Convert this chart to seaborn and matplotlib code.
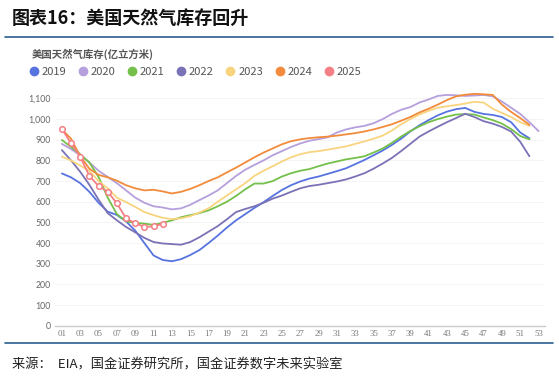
import pandas as pd
import seaborn as sns
import matplotlib.pyplot as plt
from matplotlib.lines import Line2D

# weekly storage, 亿立方米
weeks = list(range(1, 54))
y2019 = [737, 718, 690, 648, 595, 552, 536, 505, 460, 400, 340, 318, 312, 322, 342, 366, 400, 436,
         475, 510, 540, 570, 598, 628, 657, 680, 698, 712, 722, 735, 748, 762, 782, 802, 825, 848,
         875, 905, 940, 970, 995, 1018, 1036, 1048, 1054, 1035, 1025, 1020, 1010, 985, 935, 907]
y2020 = [880, 855, 825, 790, 750, 720, 690, 655, 620, 595, 578, 572, 563, 568, 585, 608, 630, 655,
         690, 725, 755, 778, 800, 825, 845, 865, 882, 895, 903, 912, 935, 950, 960, 967, 980, 1000,
         1025, 1045, 1058, 1080, 1095, 1112, 1117, 1115, 1112, 1114, 1117, 1110, 1085, 1055, 1025,
         985, 942]
y2021 = [899, 865, 830, 790, 720, 620, 540, 505, 498, 494, 488, 498, 510, 525, 535, 545, 558, 578,
         600, 628, 660, 688, 688, 700, 722, 738, 750, 758, 772, 785, 795, 805, 812, 820, 838, 858,
         885, 915, 942, 965, 985, 1000, 1012, 1022, 1024, 1022, 1008, 995, 978, 952, 918, 902]
y2022 = [850, 800, 745, 682, 610, 545, 510, 478, 452, 425, 405, 398, 395, 392, 405, 428, 455, 482,
         515, 550, 565, 578, 595, 615, 630, 648, 665, 676, 682, 690, 698, 708, 722, 738, 760, 785,
         812, 845, 880, 915, 940, 963, 985, 1005, 1026, 1010, 990, 978, 962, 940, 890, 820]
y2023 = [818, 800, 775, 750, 700, 665, 620, 598, 575, 550, 535, 522, 516, 520, 530, 548, 568, 600,
         630, 660, 690, 725, 750, 772, 795, 815, 830, 840, 845, 852, 860, 868, 880, 892, 905, 920,
         945, 975, 1000, 1022, 1040, 1055, 1062, 1068, 1075, 1084, 1080, 1050, 1030, 1010, 985, 967]
y2024 = [950, 905, 820, 760, 730, 718, 702, 680, 665, 655, 658, 650, 640, 648, 662, 680, 700, 718,
         742, 765, 790, 815, 838, 858, 878, 893, 902, 908, 912, 915, 920, 926, 932, 940, 950, 962,
         975, 992, 1010, 1032, 1050, 1070, 1092, 1110, 1118, 1122, 1120, 1117, 1070, 1035, 1005, 972]
y2025 = [952, 883, 818, 725, 676, 649, 592, 520, 496, 478, 481, 492]

years = ['2019', '2020', '2021', '2022', '2023', '2024', '2025']
colors = ['#5773e0', '#b59fdc', '#74c04a', '#7a72b6', '#f8d47f', '#f28b3b', '#f47f84']

series = dict(zip(years, [y2019, y2020, y2021, y2022, y2023, y2024, y2025]))
rows = []
for yr, vals in series.items():
    for w, v in zip(weeks, vals):
        rows.append({'week': w, 'year': yr, 'value': v})
df = pd.DataFrame(rows)

sns.set_style('white')
plt.rcParams['font.family'] = ['Noto Sans CJK SC', 'DejaVu Sans']

fig = plt.figure(figsize=(5.59, 3.85), dpi=100)
ax = fig.add_axes([55 / 559, 1 - 325.7 / 385, 490 / 559, (325.7 - 88.1) / 385])

palette = dict(zip(years, colors))
old = df[df['year'] != '2025']
sns.lineplot(data=old, x='week', y='value', hue='year', palette=palette, linewidth=1.3,
             legend=False, ax=ax)
sns.lineplot(data=df[df['year'] == '2025'], x='week', y='value', color=palette['2025'],
             linewidth=1.3, marker='o', markersize=4, markerfacecolor='white',
             markeredgecolor=palette['2025'], markeredgewidth=1.1, legend=False, ax=ax)

ax.set_xlim(0.25, 53.7)
ax.set_ylim(0, 1150)
ax.set_yticks(range(0, 1101, 100))
ax.set_yticklabels([f'{v:,}' for v in range(0, 1101, 100)], fontsize=6.3, color='#666666',
                   family='Lato')
ax.set_xticks(range(1, 54, 2))
ax.set_xticklabels([f'{w:02d}' for w in range(1, 54, 2)], fontsize=6.3, color='#777777',
                   family='Liberation Serif')
ax.tick_params(axis='both', length=0, pad=3)
ax.grid(axis='y', color='#f3f3f3', linewidth=0.6)
ax.set_xlabel('')
ax.set_ylabel('')
for s in ['top', 'right', 'left']:
    ax.spines[s].set_visible(False)
ax.spines['bottom'].set_color('#cccccc')
ax.spines['bottom'].set_linewidth(1.0)

# header / footer
fig.text(12 / 559, 1 - 18 / 385, '图表16：美国天然气库存回升', fontsize=13, fontweight='bold',
         style='italic', color='#111111', va='center', ha='left')
fig.add_artist(Line2D([5 / 559, 553 / 559], [1 - 37 / 385] * 2, color='#2a5f8f', linewidth=1.2))
fig.text(32 / 559, 1 - 54 / 385, '美国天然气库存(亿立方米)', fontsize=7.5, fontweight='bold',
         color='#555555', va='center', ha='left')
fig.add_artist(Line2D([5 / 559, 553 / 559], [1 - 343 / 385] * 2, color='#2a5f8f', linewidth=1.2))
fig.text(12 / 559, 1 - 365 / 385, '来源：  EIA，国金证券研究所，国金证券数字未来实验室', fontsize=9.5,
         color='#222222', va='center', ha='left')

handles = [Line2D([], [], linestyle='none', marker='o', markersize=6, color=c) for c in colors]
fig.legend(handles, years, loc='center left', bbox_to_anchor=(28 / 559, 1 - 72 / 385), ncol=7,
           frameon=False, fontsize=8, labelcolor='#555555', handletextpad=0.2,
           columnspacing=1.0, handlelength=1.0, borderaxespad=0, borderpad=0)

fig.savefig('out.png', dpi=100)
